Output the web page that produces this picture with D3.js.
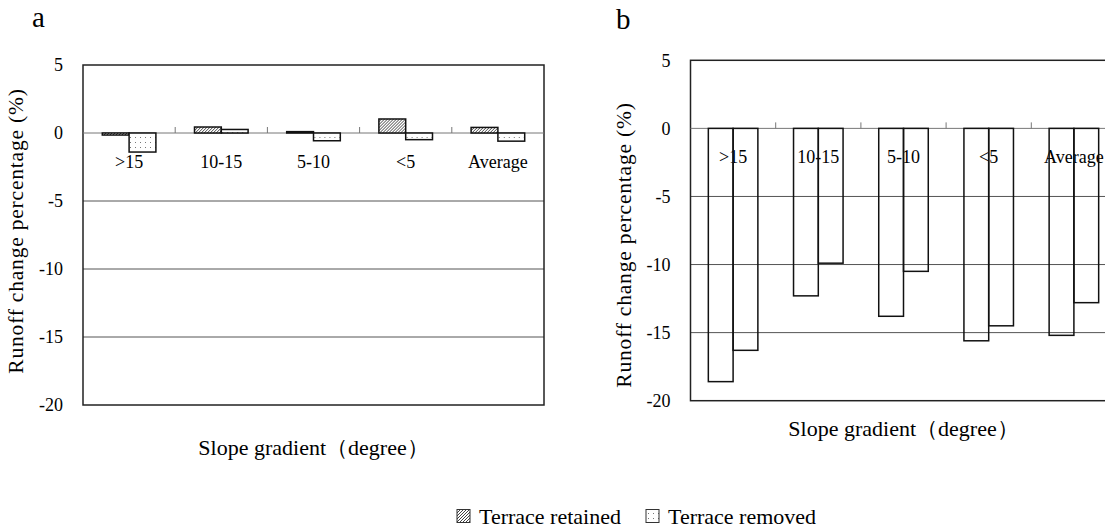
<!DOCTYPE html>
<html>
<head>
<meta charset="utf-8">
<script src="https://cdn.jsdelivr.net/npm/d3@7"></script>
<style>
  html, body { margin: 0; padding: 0; background: #fff; }
  svg text { font-family: "Times New Roman", "Liberation Serif", Tinos, "DejaVu Serif", serif; }
</style>
</head>
<body>
<div id="chart"></div>
<script>
const categories = [">15", "10-15", "5-10", "<5", "Average"];
const seriesNames = ["Terrace retained", "Terrace removed"];
const retainedA = [-0.15, 0.44, 0.1, 1.03, 0.41];
const removedA = [-1.4, 0.26, -0.57, -0.49, -0.6];
const retainedB = [-18.6, -12.3, -13.8, -15.6, -15.2];
const removedB = [-16.3, -9.9, -10.5, -14.5, -12.8];
const yTicks = [5, 0, -5, -10, -15, -20];
const gridTicks = [-5, -10, -15];

const svg = d3.select("#chart").append("svg")
  .attr("width", 1105)
  .attr("height", 527);

// fill patterns
const defs = svg.append("defs");
const hatch = defs.append("pattern")
  .attr("id", "hatch")
  .attr("patternUnits", "userSpaceOnUse")
  .attr("width", 3).attr("height", 3);
hatch.append("rect").attr("width", 3).attr("height", 3).attr("fill", "#fff");
hatch.append("path").attr("d", "M-1,1 l2,-2 M0,3 l3,-3 M2,4 l2,-2")
  .attr("stroke", "#444").attr("stroke-width", 1);

const dots = defs.append("pattern")
  .attr("id", "dots")
  .attr("patternUnits", "userSpaceOnUse")
  .attr("width", 5).attr("height", 5);
dots.append("rect").attr("width", 5).attr("height", 5).attr("fill", "#fff");
dots.append("rect").attr("x", 2).attr("y", 2).attr("width", 1).attr("height", 1).attr("fill", "#777");

function drawPanel(opt) {
  const g = svg.append("g");
  const rows = categories.map((c, i) => ({cat: c, vals: [opt.retained[i], opt.removed[i]]}));

  const x = d3.scaleBand()
    .domain(categories)
    .range([opt.left, opt.right])
    .padding(0);

  const xs = d3.scaleBand()
    .domain(seriesNames)
    .range([0, x.bandwidth()])
    .paddingInner(0)
    .paddingOuter(0.72);

  const y = d3.scaleLinear()
    .domain([-20, 5])
    .range([opt.bottom, opt.top]);

  // gridlines
  g.selectAll(".grid")
    .data(gridTicks)
    .enter().append("line")
    .attr("x1", opt.left).attr("x2", opt.right)
    .attr("y1", d => y(d)).attr("y2", d => y(d))
    .attr("stroke", "#555").attr("stroke-width", 1);

  // plot border
  g.append("rect")
    .attr("x", opt.left).attr("y", y(5))
    .attr("width", opt.right - opt.left)
    .attr("height", y(-20) - y(5))
    .attr("fill", "none")
    .attr("stroke", "#222").attr("stroke-width", 1.5);

  // zero line with category boundary ticks
  g.append("line")
    .attr("x1", opt.left).attr("x2", opt.right)
    .attr("y1", y(0)).attr("y2", y(0))
    .attr("stroke", "#777").attr("stroke-width", 1);
  g.selectAll(".btick")
    .data(categories.slice(1))
    .enter().append("line")
    .attr("x1", d => x(d)).attr("x2", d => x(d))
    .attr("y1", y(0)).attr("y2", y(0) - 6)
    .attr("stroke", "#777").attr("stroke-width", 1);

  // category labels
  const xAxis = g.append("g")
    .attr("transform", `translate(0,${y(0)})`)
    .call(d3.axisBottom(x).tickSize(0).tickPadding(22));
  xAxis.select(".domain").remove();
  xAxis.selectAll("text")
    .attr("font-size", 18)
    .attr("fill", "#000");

  // y axis labels
  const yAxis = g.append("g")
    .attr("transform", `translate(${opt.left},0)`)
    .call(d3.axisLeft(y).tickValues(yTicks).tickSize(0).tickPadding(20).tickFormat(d => d));
  yAxis.select(".domain").remove();
  yAxis.selectAll("text")
    .attr("font-size", 18)
    .attr("fill", "#000");

  // bars
  const grp = g.selectAll(".grp")
    .data(rows)
    .enter().append("g")
    .attr("transform", d => `translate(${x(d.cat)},0)`);
  grp.selectAll("rect")
    .data(d => d.vals.map((v, i) => ({name: seriesNames[i], v: v})))
    .enter().append("rect")
    .attr("x", d => xs(d.name))
    .attr("width", xs.bandwidth())
    .attr("y", d => y(Math.max(0, d.v)))
    .attr("height", d => Math.abs(y(d.v) - y(0)))
    .attr("fill", d => opt.fills[seriesNames.indexOf(d.name)])
    .attr("stroke", "#111")
    .attr("stroke-width", 1.5);

  // axis titles
  g.append("text")
    .attr("transform", `translate(${opt.yTitleX},${opt.yTitleY}) rotate(-90)`)
    .attr("text-anchor", "middle")
    .attr("dominant-baseline", "central")
    .attr("font-size", 21.5)
    .attr("letter-spacing", 0.8)
    .attr("fill", "#000")
    .text("Runoff change percentage (%)");

  g.append("text")
    .attr("x", (opt.left + opt.right) / 2)
    .attr("y", opt.xTitleY)
    .attr("text-anchor", "middle")
    .attr("dominant-baseline", "central")
    .attr("font-size", 22)
    .attr("fill", "#000")
    .text("Slope gradient（degree）");

  g.append("text")
    .attr("x", opt.letterX)
    .attr("y", opt.letterY)
    .attr("font-size", 29)
    .attr("fill", "#000")
    .text(opt.letter);
}

drawPanel({
  letter: "a", letterX: 32, letterY: 27,
  left: 83, right: 544, top: 65, bottom: 405,
  retained: retainedA, removed: removedA,
  fills: ["url(#hatch)", "url(#dots)"],
  yTitleX: 16, yTitleY: 231, xTitleY: 447
});

drawPanel({
  letter: "b", letterX: 616, letterY: 29,
  left: 690.5, right: 1116.5, top: 60.3, bottom: 400.7,
  retained: retainedB, removed: removedB,
  fills: ["none", "none"],
  yTitleX: 624, yTitleY: 245, xTitleY: 428
});

// legend
const legend = svg.append("g").attr("transform", "translate(457,516)");
const legendX = [0, 189];
const legendFill = ["url(#hatch)", "url(#dots)"];
seriesNames.forEach((name, i) => {
  const item = legend.append("g").attr("transform", `translate(${legendX[i]},0)`);
  item.append("rect")
    .attr("x", 0).attr("y", -6.5)
    .attr("width", 13).attr("height", 13)
    .attr("fill", legendFill[i])
    .attr("stroke", "#333").attr("stroke-width", 1);
  item.append("text")
    .attr("x", 22).attr("y", 0)
    .attr("dominant-baseline", "central")
    .attr("font-size", 22)
    .attr("fill", "#000")
    .text(name);
});
</script>
</body>
</html>
